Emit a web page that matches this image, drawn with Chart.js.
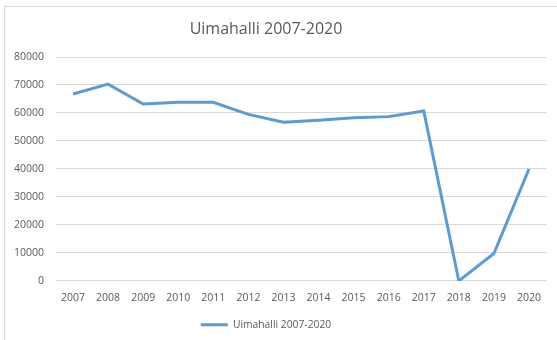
<!DOCTYPE html>
<html>
<head>
<meta charset="utf-8">
<script src="https://cdn.jsdelivr.net/npm/chart.js@4/dist/chart.umd.min.js"></script>
<style>
  html, body { margin: 0; padding: 0; background: #ffffff; }
  #wrap { position: relative; width: 557px; height: 340px; overflow: hidden; }
  #frame { position: absolute; left: 4px; top: 6px; width: 700px; height: 500px; border: 1px solid #d9d9d9; box-sizing: border-box; }
  #c { position: absolute; left: 0; top: 0; }
</style>
</head>
<body>
<div id="wrap">
  <div id="frame"></div>
  <canvas id="c" width="557" height="340"></canvas>
</div>
<script>
// Yearly visitor counts of the swimming hall
const years = ['2007', '2008', '2009', '2010', '2011', '2012', '2013', '2014', '2015', '2016', '2017', '2018', '2019', '2020'];
const visitors = [66800, 70300, 63200, 63800, 63800, 59500, 56700, 57400, 58300, 58700, 60700, 0, 9800, 40000];
const seriesName = 'Uimahalli 2007-2020';
const chartTitle = 'Uimahalli 2007-2020';

const textColor = '#595959';
const gridColor = '#d9d9d9';
const lineColor = '#5b9bd5';
const fontFamily = "'Open Sans', 'Liberation Sans', sans-serif";

new Chart(document.getElementById('c'), {
  type: 'line',
  data: {
    labels: years,
    datasets: [{
      label: seriesName,
      data: visitors,
      borderColor: lineColor,
      backgroundColor: lineColor,
      borderWidth: 3,
      pointRadius: 0,
      pointHoverRadius: 0,
      tension: 0,
      fill: false
    }]
  },
  options: {
    responsive: false,
    animation: false,
    layout: { padding: { left: -14.5, right: 10.5, top: 0, bottom: 0 } },
    plugins: {
      title: {
        display: true,
        text: chartTitle,
        color: textColor,
        font: { family: fontFamily, size: 16, weight: 'normal' },
        padding: { top: 19.4, bottom: 18.4 }
      },
      legend: {
        display: true,
        position: 'bottom',
        labels: {
          color: textColor,
          font: { family: fontFamily, size: 10.3 },
          usePointStyle: true,
          pointStyle: 'line',
          pointStyleWidth: 27,
          boxHeight: 10,
          padding: 11.75
        }
      },
      tooltip: { enabled: false }
    },
    scales: {
      x: {
        offset: true,
        grid: { display: false, drawTicks: false },
        border: { display: false },
        ticks: {
          color: textColor,
          font: { family: fontFamily, size: 10.5 },
          padding: 10.7,
          maxRotation: 0,
          autoSkip: false
        },
        afterFit: (scale) => { scale.height = 27; }
      },
      y: {
        min: 0,
        max: 80000,
        grid: { color: gridColor, lineWidth: 1, drawTicks: false },
        border: { display: false },
        ticks: {
          stepSize: 10000,
          color: textColor,
          font: { family: fontFamily, size: 10.5 },
          padding: 11.5,
          callback: (value) => String(value)
        },
        afterFit: (scale) => { scale.width = 70; }
      }
    }
  }
});
</script>
</body>
</html>
